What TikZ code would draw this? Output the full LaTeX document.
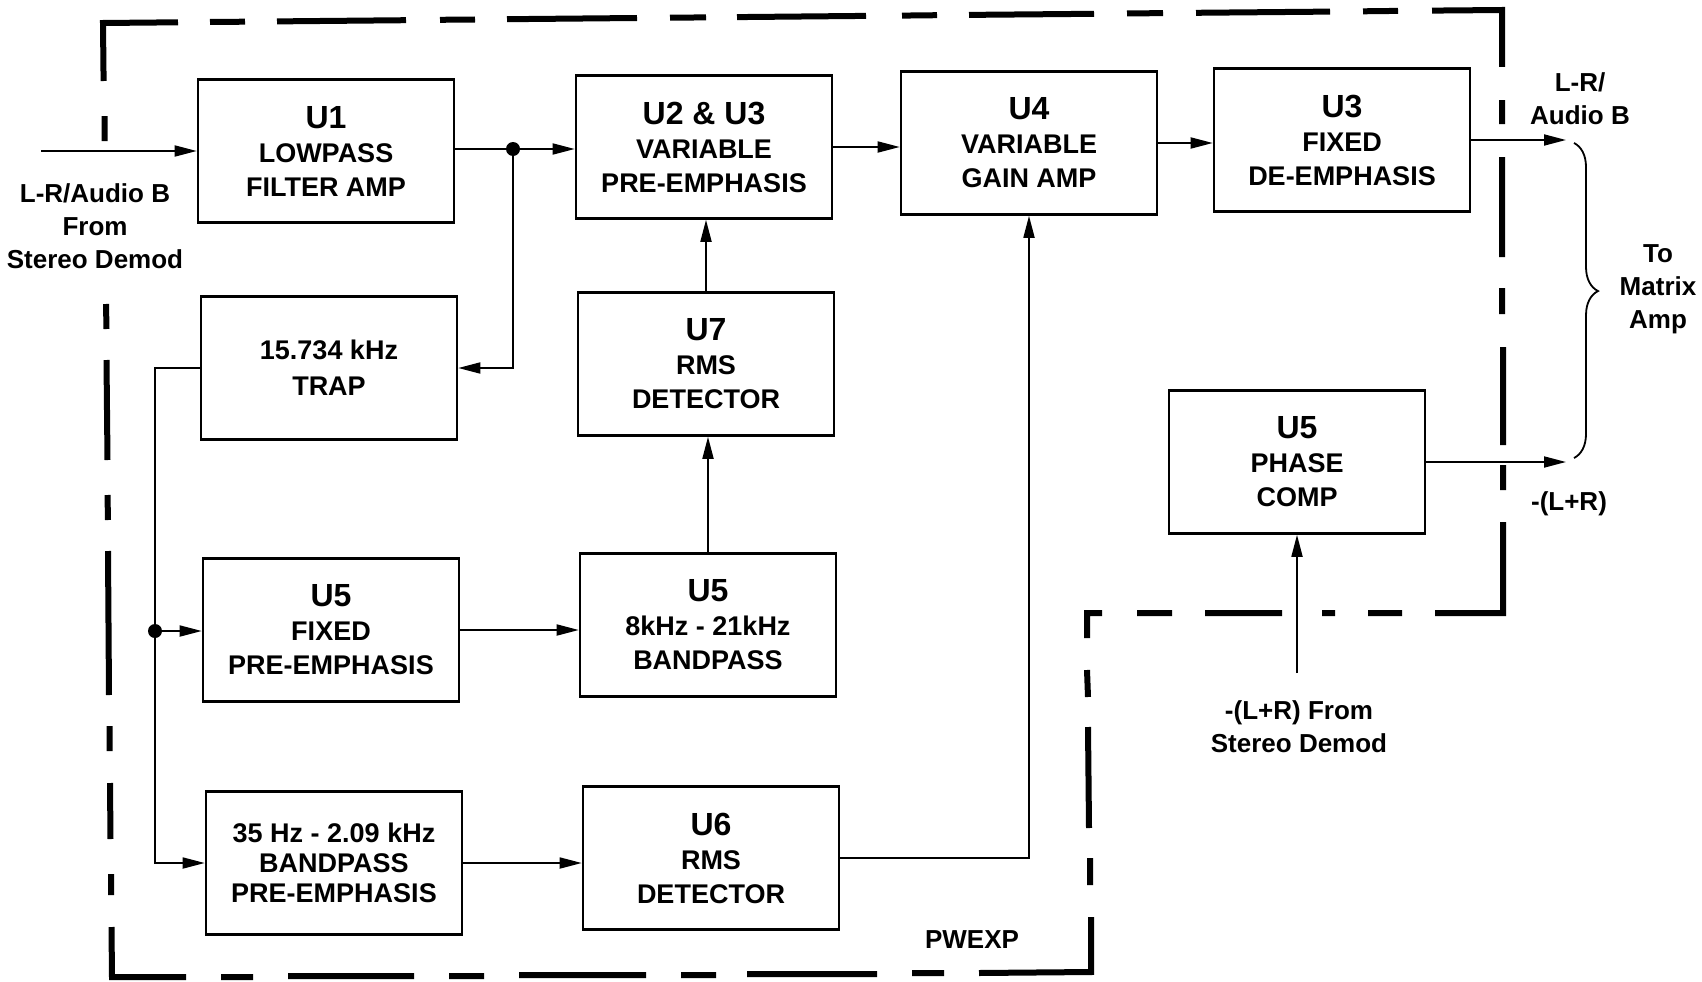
\documentclass[tikz,border=0pt]{standalone}
\usepackage{fontspec}
\setmainfont{Liberation Sans}
\usetikzlibrary{arrows.meta,decorations.pathreplacing,calc}
\newcommand\boxtitle[1]{{\fontsize{32}{34}\selectfont #1}}
\begin{document}
\begin{tikzpicture}[x=1pt,y=-1pt,
  box/.style={draw, line width=2.6pt, minimum width=256pt, minimum height=143pt, inner sep=0pt, align=center, font=\fontsize{27}{34}\selectfont\bfseries},
  lbl/.style={align=center, inner sep=0pt, font=\fontsize{26}{33}\selectfont\bfseries},
  conn/.style={line width=1.8pt},
  arr/.style={conn, -{Triangle[length=22pt,width=11pt]}},
  dot/.style={circle, fill, inner sep=0pt, minimum size=14pt},
  border/.style={line width=6pt, line cap=butt, line join=miter}
]
\useasboundingbox[fill=white] (0,0) rectangle (1702,982);

% dashed border (long/short dashes as in the original)
\draw[border]
  (178,22.3) -- (103,23) -- (103.6,81)
  (210,22) -- (245,21.7)
  (277,21.4) -- (406,20.2)
  (440,19.8) -- (475,19.5)
  (507,19.2) -- (637,18)
  (670,17.7) -- (706,17.4)
  (737,17.1) -- (866,15.9)
  (902,15.6) -- (937,15.2)
  (969,14.9) -- (1094,13.8)
  (1127,13.5) -- (1163,13.1)
  (1196,12.8) -- (1330,11.6)
  (1363,11.3) -- (1398,10.9)
  (1432,10.6) -- (1502,10) -- (1502,67)
  (1502,100) -- (1502,124)
  (1502,157) -- (1502,257)
  (1502,288) -- (1502,314)
  (1503,347) -- (1503,445)
  (1503,465) -- (1503,490)
  (1503,522) -- (1503,613) -- (1435,613)
  (1402,613) -- (1368,613)
  (1335,613) -- (1322,613)
  (1282,613) -- (1205,613)
  (1172,613) -- (1137,613)
  (1102,613) -- (1087,613) -- (1087,638)
  (1087,670) -- (1088,697)
  (1088,727) -- (1089,828)
  (1090,858) -- (1090,885)
  (1091,917) -- (1091,972) -- (979,973)
  (944,973) -- (912,973)
  (877,974) -- (747,974)
  (716,975) -- (681,975)
  (646,975) -- (519,975)
  (484,976) -- (449,976)
  (414,976) -- (288,976)
  (253,977) -- (221,977)
  (186,977) -- (112,977) -- (111.5,927)
  (111,895) -- (111,874)
  (110.5,839) -- (110,783)
  (109.5,751) -- (109.5,726)
  (109,695) -- (108,551)
  (108,520) -- (107.5,495)
  (107.5,460) -- (106.5,360)
  (106.5,329) -- (106,304)
  (104.5,141) -- (104.5,116);

% boxes
\node[box] (u1) at (326,151) {\boxtitle{U1}\\LOWPASS\\FILTER AMP};
\node[box] (u23) at (704,147) {\boxtitle{U2 \& U3}\\VARIABLE\\PRE-EMPHASIS};
\node[box] (u4) at (1029,143) {\boxtitle{U4}\\VARIABLE\\GAIN AMP};
\node[box] (u3) at (1342,140) {\boxtitle{U3}\\FIXED\\DE-EMPHASIS};
\node[box, font=\fontsize{27}{36}\selectfont\bfseries] (trap) at (329,368) {15.734 kHz\\TRAP};
\node[box] (u7) at (706,364) {\boxtitle{U7}\\RMS\\DETECTOR};
\node[box] (u5p) at (1297,462) {\boxtitle{U5}\\PHASE\\COMP};
\node[box] (u5f) at (331,630) {\boxtitle{U5}\\FIXED\\PRE-EMPHASIS};
\node[box] (u5b) at (708,625) {\boxtitle{U5}\\8kHz - 21kHz\\BANDPASS};
\node[box, font=\fontsize{27}{30}\selectfont\bfseries] (bpp) at (334,863) {35 Hz - 2.09 kHz\\BANDPASS\\PRE-EMPHASIS};
\node[box] (u6) at (711,858) {\boxtitle{U6}\\RMS\\DETECTOR};

% labels
\node[lbl] (inl) at (95,226) {L-R/Audio B\\From\\Stereo Demod};
\node[lbl] (outl) at (1580,99) {L-R/\\Audio B};
\node[lbl] (tom) at (1658,289) {To\\Matrix\\Amp};
\node[lbl] (lr) at (1569,504) {-(L+R)};
\node[lbl] (lrf) at (1299,727) {-(L+R) From\\Stereo Demod};
\node[lbl] (pw) at (972,940) {PWEXP};

% junctions and free ends
\node[dot] (j1) at (513,149) {};
\node[dot] (j2) at (155,631) {};
\coordinate (in) at (41,151);
\coordinate (o1) at (1566,139);
\coordinate (o2) at (1566,460);
\coordinate (i2) at (1297,673);

% connectors
\draw[arr] (in) -- (u1.west);
\draw[conn] (u1.east |- j1) -- (j1);
\draw[arr] (j1) -- (j1 -| u23.west);
\draw[arr] (j1) |- (trap.east);
\draw[conn] (trap.west) -| (j2);
\draw[arr] (j2) -- (j2 -| u5f.west);
\draw[arr] (j2) |- (bpp.west);
\draw[arr] (u5f.east) -- (u5f.east -| u5b.west);
\draw[arr] (bpp.east) -- (bpp.east -| u6.west);
\draw[arr] (u5b.north) -- (u5b.north |- u7.south);
\draw[arr] (u7.north) -- (u7.north |- u23.south);
\draw[arr] (u23.east) -- (u23.east -| u4.west);
\draw[arr] (u6.east) -| (u4.south);
\draw[arr] (u4.east) -- (u4.east -| u3.west);
\draw[arr] (u3.east) -- (o1 |- u3.east);
\draw[arr] (u5p.east) -- (o2 |- u5p.east);
\draw[arr] (i2) -- (u5p.south);

% brace
\draw[conn, decorate, decoration={brace, amplitude=24pt, aspect=0.47}] (1574,143) -- (1574,458);
\end{tikzpicture}
\end{document}
